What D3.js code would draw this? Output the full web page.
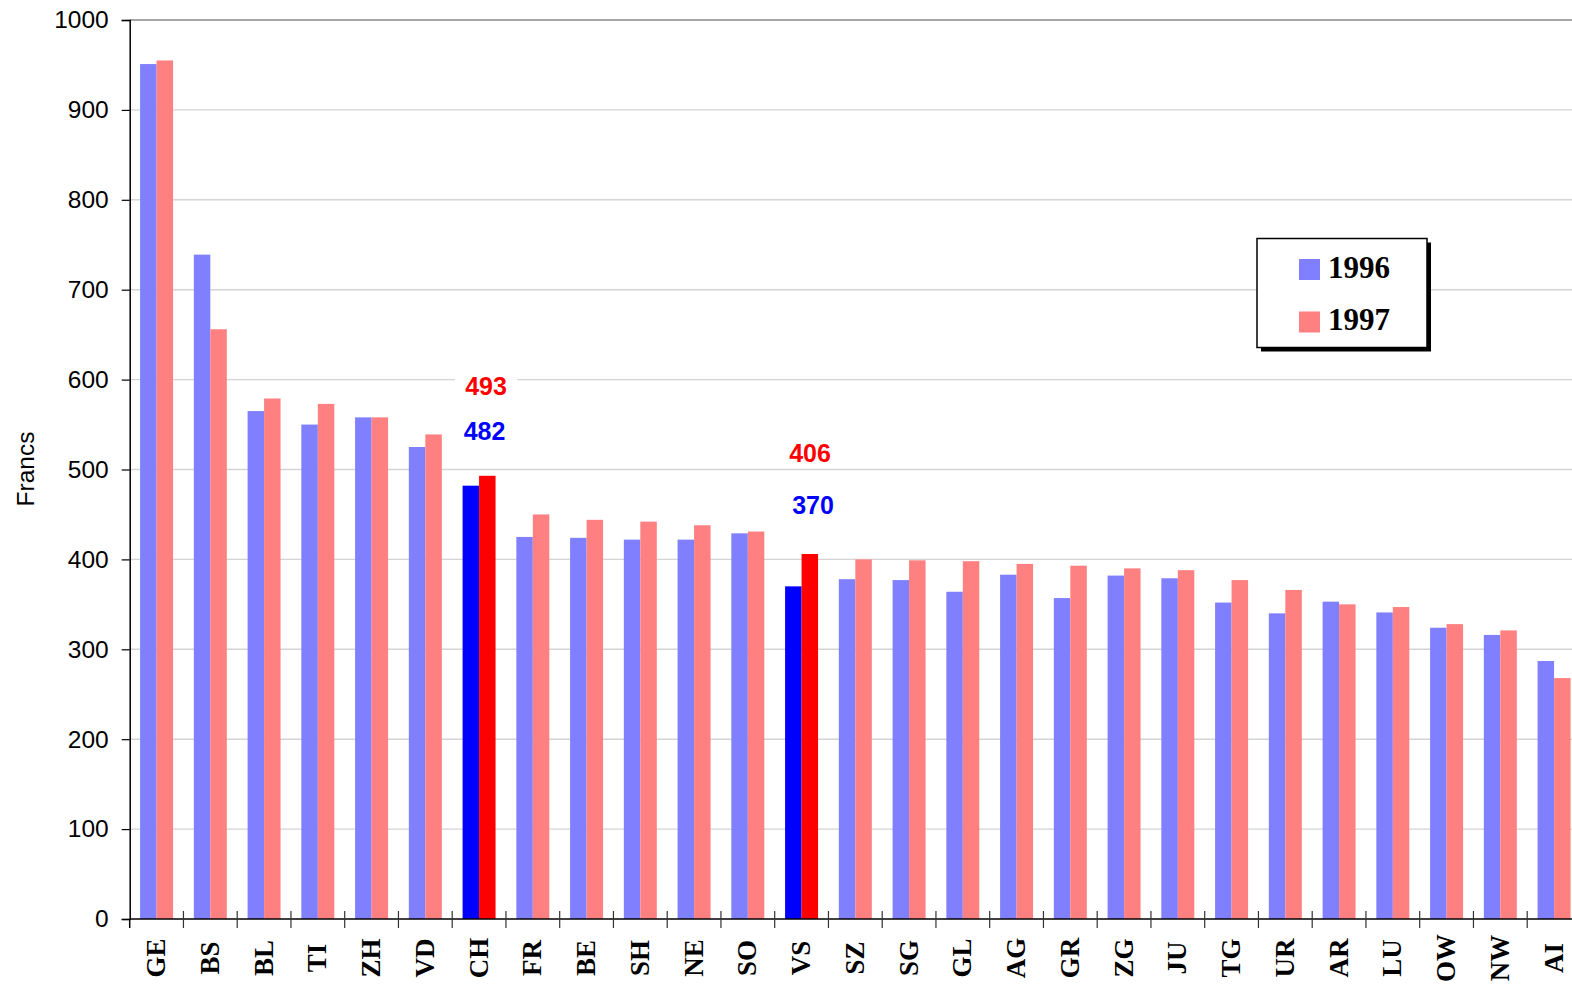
<!DOCTYPE html>
<html>
<head>
<meta charset="utf-8">
<script src="https://cdn.jsdelivr.net/npm/d3@7/dist/d3.min.js"></script>
<style>
  html, body { margin: 0; padding: 0; background: #fff; overflow: hidden; }
  svg { display: block; }
</style>
</head>
<body>
<svg id="chart" width="1572" height="989"></svg>
<script>
// Cantons, in the order shown along the axis
const cantons = ["GE","BS","BL","TI","ZH","VD","CH","FR","BE","SH","NE","SO","VS",
                 "SZ","SG","GL","AG","GR","ZG","JU","TG","UR","AR","LU","OW","NW","AI"];

// Amounts in francs per canton
const values1996 = [951,739,565,550,558,525,482,425,424,422,422,429,370,
                    378,377,364,383,357,382,379,352,340,353,341,324,316,287];
const values1997 = [955,656,579,573,558,539,493,450,444,442,438,431,406,
                    400,399,398,395,393,390,388,377,366,350,347,328,321,268];

const seriesNames = ["1996","1997"];
const yTicks = [0,100,200,300,400,500,600,700,800,900,1000];

// Cantons drawn in strong colours, with their values written above
const highlighted = ["CH","VS"];

const colors = {
  "1996": "#8080ff", "1997": "#ff8080",
  "1996hi": "#0000ff", "1997hi": "#ff0000"
};

const svg = d3.select("#chart");
const plotLeft = 129.7, plotTop = 20, plotBottom = 919, step = 53.75;
const plotRight = plotLeft + step * cantons.length;

const x = d3.scaleBand().domain(cantons).range([plotLeft, plotRight]).padding(0);
const xs = d3.scaleBand().domain(seriesNames).range([0, x.bandwidth()])
  .paddingInner(0).paddingOuter(0.63);
const y = d3.scaleLinear().domain([0, 1000]).range([plotBottom, plotTop]);

// horizontal gridlines
svg.append("g").selectAll("line").data(yTicks.filter(d => d > 0)).join("line")
  .attr("x1", plotLeft).attr("x2", 1572)
  .attr("y1", d => y(d)).attr("y2", d => y(d))
  .attr("stroke", d => d === 1000 ? "#8a8a8a" : "#d4d4d4")
  .attr("stroke-width", d => d === 1000 ? 1.6 : 1.4);

// bars
const rows = cantons.map((c, i) => ({ canton: c, "1996": values1996[i], "1997": values1997[i] }));
const groups = svg.append("g").selectAll("g").data(rows).join("g")
  .attr("transform", d => `translate(${x(d.canton)},0)`);
groups.selectAll("rect")
  .data(d => seriesNames.map(s => ({ s, v: d[s], hi: highlighted.includes(d.canton) })))
  .join("rect")
  .attr("x", d => xs(d.s))
  .attr("width", xs.bandwidth())
  .attr("y", d => y(d.v))
  .attr("height", d => y(0) - y(d.v))
  .attr("fill", d => d.hi ? colors[d.s + "hi"] : colors[d.s]);

// y axis
const yAxis = d3.axisLeft(y).tickValues(yTicks).tickSize(8).tickPadding(13).tickFormat(d3.format("d"));
const gy = svg.append("g").attr("transform", `translate(${plotLeft},0)`).call(yAxis);
gy.select(".domain").attr("stroke", "#000").attr("stroke-width", 1.5);
gy.selectAll(".tick line").attr("stroke", "#000").attr("stroke-width", 1.2);
gy.selectAll(".tick text")
  .attr("font-family", "'Liberation Sans', Arial, sans-serif")
  .attr("font-size", 24.5).attr("fill", "#000");

// x axis line with crossing ticks at band boundaries
svg.append("line").attr("x1", plotLeft).attr("x2", 1572)
  .attr("y1", plotBottom).attr("y2", plotBottom)
  .attr("stroke", "#000").attr("stroke-width", 1.5);
svg.append("g").selectAll("line").data(cantons.slice(1)).join("line")
  .attr("x1", d => x(d)).attr("x2", d => x(d))
  .attr("y1", plotBottom - 8).attr("y2", plotBottom + 9)
  .attr("stroke", "#333").attr("stroke-width", 1.2);
svg.append("line").attr("x1", plotLeft).attr("x2", plotLeft)
  .attr("y1", plotBottom).attr("y2", plotBottom + 9)
  .attr("stroke", "#000").attr("stroke-width", 1.5);

// canton labels, rotated
svg.append("g").selectAll("text").data(cantons).join("text")
  .attr("transform", d => `translate(${x(d) + x.bandwidth() / 2 - 1},958) rotate(-90)`)
  .attr("text-anchor", "middle")
  .attr("dy", "0.35em")
  .attr("font-family", "'Liberation Serif', 'Times New Roman', serif")
  .attr("font-weight", "bold")
  .attr("font-size", 27)
  .attr("fill", "#000")
  .text(d => d);

// y axis title
svg.append("text")
  .attr("transform", "translate(25,469) rotate(-90)")
  .attr("text-anchor", "middle")
  .attr("dy", "0.35em")
  .attr("font-family", "'Liberation Sans', Arial, sans-serif")
  .attr("font-size", 24.5)
  .attr("fill", "#000")
  .text("Francs");

// value labels for the highlighted cantons
const valueLabels = [];
highlighted.forEach(c => {
  const i = cantons.indexOf(c);
  valueLabels.push({ canton: c, series: "1997", value: values1997[i] });
  valueLabels.push({ canton: c, series: "1996", value: values1996[i] });
});
// placement of each label relative to its bar top: [dx, baseline offset]
const labelPlacement = { "CH1997": [7, -81], "CH1996": [5.5, -46], "VS1997": [8.5, -92], "VS1996": [11.5, -72] };

const lg = svg.append("g").selectAll("g").data(valueLabels).join("g")
  .attr("transform", d => {
    const p = labelPlacement[d.canton + d.series];
    return `translate(${x(d.canton) + x.bandwidth() / 2 + p[0]},${y(d.value) + p[1]})`;
  });
lg.append("rect")
  .attr("x", -31).attr("y", -24).attr("width", 62).attr("height", 30)
  .attr("fill", "#fff");
lg.append("text")
  .attr("text-anchor", "middle")
  .attr("font-family", "'Liberation Sans', Arial, sans-serif")
  .attr("font-weight", "bold")
  .attr("font-size", 25)
  .attr("fill", d => colors[d.series + "hi"])
  .text(d => d.value);

// legend
const legend = svg.append("g").attr("transform", "translate(1257,238.5)");
legend.append("rect").attr("x", 4).attr("y", 4).attr("width", 170).attr("height", 109).attr("fill", "#000");
legend.append("rect").attr("x", 0).attr("y", 0).attr("width", 170).attr("height", 109)
  .attr("fill", "#fff").attr("stroke", "#000").attr("stroke-width", 1.5);
const li = legend.selectAll("g.item").data(seriesNames).join("g")
  .attr("class", "item")
  .attr("transform", (d, i) => `translate(0,${i * 52.5})`);
li.append("rect").attr("x", 42).attr("y", 20.5).attr("width", 21).attr("height", 21)
  .attr("fill", d => colors[d]);
li.append("text").attr("x", 71).attr("y", 39)
  .attr("font-family", "'Liberation Serif', 'Times New Roman', serif")
  .attr("font-weight", "bold").attr("font-size", 31).attr("fill", "#000")
  .text(d => d);
</script>
</body>
</html>
